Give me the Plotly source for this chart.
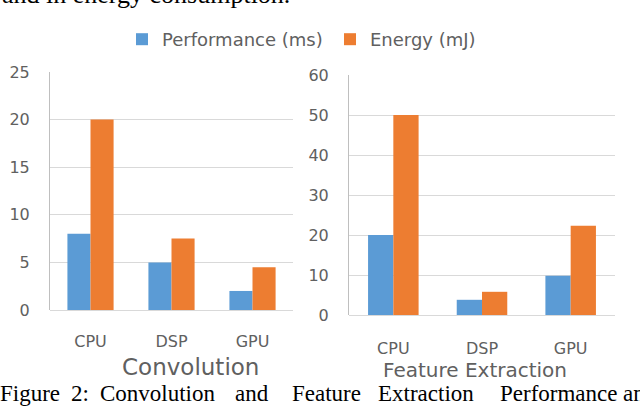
import plotly.graph_objects as go

# ---- data ----
categories = ["CPU", "DSP", "GPU"]
conv_performance = [8, 5, 2]
conv_energy = [20, 7.5, 4.5]
feat_performance = [20, 3.8, 9.8]
feat_energy = [50, 5.8, 22.3]
series_names = ["Performance (ms)", "Energy (mJ)"]
panel_titles = ["Convolution", "Feature Extraction"]
conv_ticks = [0, 5, 10, 15, 20, 25]
feat_ticks = [0, 10, 20, 30, 40, 50, 60]
top_text = "and in energy consumption."
caption_words = ["Figure", "2:", "Convolution", "and", "Feature", "Extraction", "Performance", "and"]

W, H = 640, 406
BLUE = "#5B9BD5"
ORANGE = "#ED7D31"
GRID = "#D9D9D9"
TXT = "#606060"
SANS = "DejaVu Sans"
SERIF = "Liberation Serif"

def px(x):
    return x / W

def py(y):
    return 1 - y / H

fig = go.Figure()
fig.add_trace(go.Bar(x=categories, y=conv_performance, name=series_names[0],
                     marker=dict(color=BLUE, line=dict(width=0)), xaxis="x", yaxis="y",
                     legendgroup="p"))
fig.add_trace(go.Bar(x=categories, y=conv_energy, name=series_names[1],
                     marker=dict(color=ORANGE, line=dict(width=0)), xaxis="x", yaxis="y",
                     legendgroup="e"))
fig.add_trace(go.Bar(x=categories, y=feat_performance, name=series_names[0],
                     marker=dict(color=BLUE, line=dict(width=0)), xaxis="x2", yaxis="y2",
                     legendgroup="p", showlegend=False))
fig.add_trace(go.Bar(x=categories, y=feat_energy, name=series_names[1],
                     marker=dict(color=ORANGE, line=dict(width=0)), xaxis="x2", yaxis="y2",
                     legendgroup="e", showlegend=False))

common_x = dict(showline=False, showgrid=False, zeroline=False, automargin=False,
                ticks="outside", tickcolor="rgba(0,0,0,0)",
                tickfont=dict(family=SANS, size=16, color=TXT), fixedrange=True)
common_y = dict(showline=True, linecolor="#BFBFBF", linewidth=1, automargin=False,
                showgrid=True, gridcolor=GRID, gridwidth=1,
                zeroline=True, zerolinecolor=GRID, zerolinewidth=1,
                ticks="outside", tickcolor="rgba(0,0,0,0)", ticklen=16,
                tickfont=dict(family=SANS, size=16, color=TXT), fixedrange=True)

fig.update_layout(
    template="none",
    width=W, height=H,
    margin=dict(l=0, r=0, t=0, b=0, pad=0),
    paper_bgcolor="white", plot_bgcolor="white",
    barmode="group", bargap=0.43, bargroupgap=0,
    xaxis=dict(domain=[px(50), px(293)], anchor="y", ticklen=17, **common_x),
    yaxis=dict(domain=[py(310), py(72)], anchor="x", range=[0, 25],
               tickvals=conv_ticks, **common_y),
    xaxis2=dict(domain=[px(349), px(615)], anchor="y2", ticklen=19, **common_x),
    yaxis2=dict(domain=[py(315), py(75)], anchor="x2", range=[0, 60],
                tickvals=feat_ticks, **common_y),
    showlegend=True,
    legend=dict(orientation="h", x=px(122), y=py(21), xanchor="left", yanchor="top",
                font=dict(family=SANS, size=18, color=TXT),
                entrywidth=163, entrywidthmode="pixels",
                bgcolor="rgba(0,0,0,0)", borderwidth=0,
                itemclick=False, itemdoubleclick=False),
)

annotations = [
    dict(text=panel_titles[0], x=px(190), y=py(367), xref="paper", yref="paper",
         showarrow=False, font=dict(family=SANS, size=23, color=TXT),
         xanchor="center", yanchor="middle"),
    dict(text=panel_titles[1], x=px(475), y=py(370), xref="paper", yref="paper",
         showarrow=False, font=dict(family=SANS, size=20, color=TXT),
         xanchor="center", yanchor="middle"),
    dict(text=top_text, x=0, y=py(-5), xref="paper", yref="paper",
         showarrow=False, font=dict(family=SERIF, size=26, color="black"),
         xanchor="left", yanchor="middle"),
]
word_x = [0, 71, 100, 235, 292, 378, 500, 623]
for wx, w in zip(word_x, caption_words):
    annotations.append(dict(text=w, x=px(wx), y=py(393), xref="paper", yref="paper",
                            showarrow=False, font=dict(family=SERIF, size=23, color="black"),
                            xanchor="left", yanchor="middle", xshift=-2))
fig.update_layout(annotations=annotations)

fig.write_html("out.html",
               config={"displayModeBar": False, "staticPlot": True},
               post_script="document.body.style.margin='0';document.body.style.overflow='hidden';")
